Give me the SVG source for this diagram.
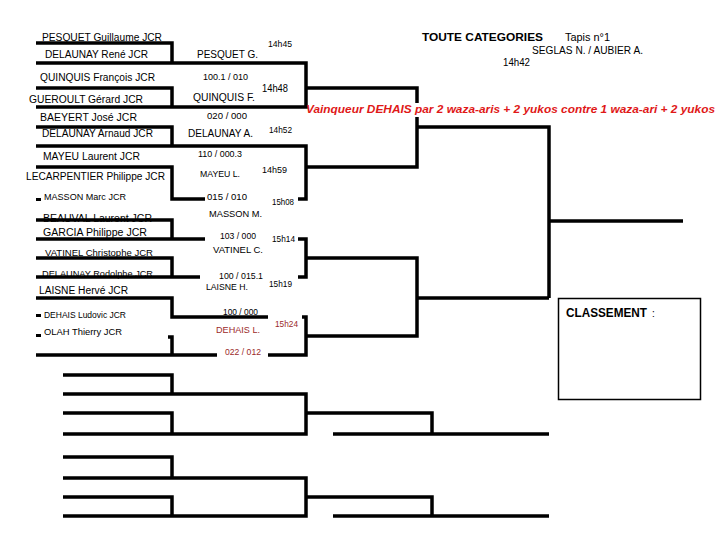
<svg xmlns="http://www.w3.org/2000/svg" width="720" height="540" viewBox="0 0 720 540">
<style>
text{font-family:"Liberation Sans",Arial,sans-serif;fill:#000}
.n{font-size:10px}
.s{font-size:9px}
.t{font-size:9px}
.r{fill:#9b2a2a}
.ln{fill:none;stroke:#000;stroke-width:3.5;stroke-linejoin:miter;stroke-linecap:butt}
.title{font-size:11.5px;font-weight:bold}
.win{font-size:11.5px;font-weight:bold;font-style:italic;fill:#e01818}
</style>
<rect width="720" height="540" fill="#fff"/>
<g id="connectors" class="ln">
<path d="M36,43H172V63M36,63H306V107H36M36,88H172V107"/>
<path d="M306,88H417V167H306M36,146H306V199H298M36,127H172V146"/>
<path d="M36,167H172V199H205"/>
<path d="M36,220H172V239M36,239H205M298,239H306V277H298M306,258H417V336H306M417,298H549"/>
<path d="M36,258H172V277M36,277H200"/>
<path d="M36,298H172V317H268M302,317H306V355H268M217,355H36M168,337H172V355"/>
<path d="M417,127H549V298M549,221H683"/>
<path d="M63,375H172V394M63,394H306V434H63M63,413H172V434M306,413H432V434M333,434H549"/>
<path d="M63,457H172V478M63,478H306V516H63M63,497H172V516M306,497H432V516M333,516H549"/>
</g>
<g id="stubs" fill="#000">
<rect x="36" y="198" width="5" height="3"/>
<rect x="36" y="314" width="5" height="3"/>
<rect x="36" y="334" width="5" height="3"/>
</g>
<g id="header">
<text class="title" x="422" y="41" textLength="121" lengthAdjust="spacingAndGlyphs">TOUTE CATEGORIES</text>
<text class="n" x="565" y="41" textLength="45" lengthAdjust="spacingAndGlyphs">Tapis n°1</text>
<text class="n" x="532" y="54" textLength="111" lengthAdjust="spacingAndGlyphs">SEGLAS N. / AUBIER A.</text>
<text class="n" x="503" y="66" textLength="27" lengthAdjust="spacingAndGlyphs">14h42</text>
</g>
<g id="p1"><text class="n" x="42" y="41" textLength="120" lengthAdjust="spacingAndGlyphs">PESQUET Guillaume JCR</text></g>
<g id="p2"><text class="n" x="45" y="58" textLength="103" lengthAdjust="spacingAndGlyphs">DELAUNAY René JCR</text></g>
<g id="p3"><text class="n" x="40" y="81" textLength="115" lengthAdjust="spacingAndGlyphs">QUINQUIS François JCR</text></g>
<g id="p4"><text class="n" x="29" y="103" textLength="114" lengthAdjust="spacingAndGlyphs">GUEROULT Gérard JCR</text></g>
<g id="p5"><text class="n" x="40" y="121" textLength="97" lengthAdjust="spacingAndGlyphs">BAEYERT José JCR</text></g>
<g id="p6"><text class="n" x="42" y="137" textLength="111" lengthAdjust="spacingAndGlyphs">DELAUNAY Arnaud JCR</text></g>
<g id="p7"><text class="n" x="43" y="160" textLength="97" lengthAdjust="spacingAndGlyphs">MAYEU Laurent JCR</text></g>
<g id="p8"><text class="n" x="26" y="180" textLength="139" lengthAdjust="spacingAndGlyphs">LECARPENTIER Philippe JCR</text></g>
<g id="p9"><text class="s" x="44" y="200" textLength="82" lengthAdjust="spacingAndGlyphs">MASSON Marc JCR</text></g>
<g id="p10"><text class="n" x="43" y="222" textLength="109" lengthAdjust="spacingAndGlyphs">BEAUVAL Laurent JCR</text></g>
<g id="p11"><text class="n" x="43" y="236" textLength="104" lengthAdjust="spacingAndGlyphs">GARCIA Philippe JCR</text></g>
<g id="p12"><text class="s" x="45" y="256" textLength="108" lengthAdjust="spacingAndGlyphs">VATINEL Christophe JCR</text></g>
<g id="p13"><text class="s" x="42" y="277" textLength="111" lengthAdjust="spacingAndGlyphs">DELAUNAY Rodolphe JCR</text></g>
<g id="p14"><text class="n" x="39" y="294" textLength="89" lengthAdjust="spacingAndGlyphs">LAISNE Hervé JCR</text></g>
<g id="p15"><text class="s" x="44" y="318" textLength="82" lengthAdjust="spacingAndGlyphs">DEHAIS Ludovic JCR</text></g>
<g id="p16"><text class="s" x="44" y="335" textLength="78" lengthAdjust="spacingAndGlyphs">OLAH Thierry JCR</text></g>
<g id="m1">
<text class="t" x="268" y="47" textLength="24" lengthAdjust="spacingAndGlyphs">14h45</text>
<text class="n" x="197" y="58" textLength="61" lengthAdjust="spacingAndGlyphs">PESQUET G.</text>
</g>
<g id="m2">
<text class="t" x="203" y="80" textLength="45" lengthAdjust="spacingAndGlyphs">100.1 / 010</text>
<text class="n" x="262" y="92" textLength="26" lengthAdjust="spacingAndGlyphs">14h48</text>
<text class="n" x="193" y="101" textLength="62" lengthAdjust="spacingAndGlyphs">QUINQUIS F.</text>
</g>
<g id="m3">
<text class="t" x="207" y="119" textLength="40" lengthAdjust="spacingAndGlyphs">020 / 000</text>
<text class="t" x="269" y="133" textLength="23" lengthAdjust="spacingAndGlyphs">14h52</text>
<text class="n" x="188" y="137" textLength="65" lengthAdjust="spacingAndGlyphs">DELAUNAY A.</text>
</g>
<g id="m4">
<text class="t" x="198" y="157" textLength="44" lengthAdjust="spacingAndGlyphs">110 / 000.3</text>
<text class="t" x="262" y="173" textLength="25" lengthAdjust="spacingAndGlyphs">14h59</text>
<text class="s" x="200" y="177" textLength="40" lengthAdjust="spacingAndGlyphs">MAYEU L.</text>
</g>
<g id="m5">
<text class="t" x="207" y="200" textLength="40" lengthAdjust="spacingAndGlyphs">015 / 010</text>
<text class="t" x="272" y="205" textLength="22" lengthAdjust="spacingAndGlyphs">15h08</text>
<text class="s" x="209" y="217" textLength="53" lengthAdjust="spacingAndGlyphs">MASSON M.</text>
</g>
<g id="m6">
<text class="t" x="220" y="239" textLength="36" lengthAdjust="spacingAndGlyphs">103 / 000</text>
<text class="t" x="272" y="242" textLength="23" lengthAdjust="spacingAndGlyphs">15h14</text>
<text class="s" x="213" y="253" textLength="50" lengthAdjust="spacingAndGlyphs">VATINEL C.</text>
</g>
<g id="m7">
<text class="t" x="219" y="279" textLength="44" lengthAdjust="spacingAndGlyphs">100 / 015.1</text>
<text class="t" x="269" y="287" textLength="23" lengthAdjust="spacingAndGlyphs">15h19</text>
<text class="s" x="206" y="290" textLength="42" lengthAdjust="spacingAndGlyphs">LAISNE H.</text>
</g>
<g id="m8">
<text class="t" x="223" y="315" textLength="35" lengthAdjust="spacingAndGlyphs">100 / 000</text>
<text class="t r" x="275" y="327" textLength="23" lengthAdjust="spacingAndGlyphs">15h24</text>
<text class="s r" x="216" y="333" textLength="44" lengthAdjust="spacingAndGlyphs">DEHAIS L.</text>
<text class="t r" x="225" y="355" textLength="36" lengthAdjust="spacingAndGlyphs">022 / 012</text>
</g>
<g id="winner">
<rect x="308" y="103" width="410" height="14" fill="#fff"/>
<text class="win" x="306" y="113" textLength="409" lengthAdjust="spacingAndGlyphs">Vainqueur DEHAIS par 2 waza-aris + 2 yukos contre 1 waza-ari + 2 yukos</text>
</g>
<g id="classement">
<rect x="558.5" y="298.5" width="142" height="101" fill="none" stroke="#000" stroke-width="1.5"/>
<text x="566" y="317" font-size="12" font-weight="bold" textLength="81" lengthAdjust="spacingAndGlyphs">CLASSEMENT</text>
<text x="652" y="317" font-size="10">:</text>
</g>
</svg>
